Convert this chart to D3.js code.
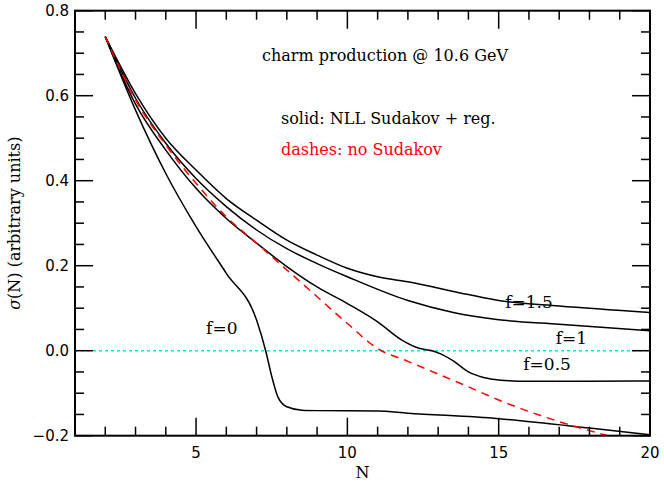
<!DOCTYPE html><html><head><meta charset="utf-8"><script src="https://cdn.jsdelivr.net/npm/d3@7"></script>
<style>body{margin:0;background:#fff}text{font-family:"DejaVu Sans",sans-serif}.s{font-family:"DejaVu Serif",serif}</style></head><body><svg width="664" height="488"></svg><script>
const xTicks=[5,10,15,20];
const yTicks=[-0.2,0,0.2,0.4,0.6,0.8];
const f15=[[2,0.739],[3,0.605],[4,0.5],[5,0.425],[6,0.358],[7,0.307],[8,0.26],[9,0.225],[10,0.194],[11,0.174],[12,0.162],[14,0.132],[15,0.118],[17,0.105],[20,0.09]];
const f1=[[2,0.739],[3,0.594],[4,0.488],[5,0.405],[6,0.339],[7,0.284],[8,0.24],[9,0.205],[10,0.174],[12,0.118],[13.5,0.09],[15,0.073],[17,0.062],[20,0.047]];
const f05=[[2,0.739],[3,0.58],[4,0.472],[5,0.382],[6,0.311],[7,0.253],[8,0.198],[9,0.15],[10,0.111],[11,0.068],[11.8,0.025],[12.4,0.005],[12.8,0.0],[13.1,-0.008],[13.5,-0.024],[14,-0.05],[14.5,-0.063],[15,-0.069],[16,-0.072],[18,-0.072],[20,-0.071]];
const f0=[[2,0.739],[3,0.566],[4,0.417],[5,0.292],[6,0.182],[7,0.072],[7.3,0.0],[7.5,-0.06],[7.7,-0.108],[8,-0.132],[8.5,-0.14],[9,-0.141],[11,-0.142],[12,-0.147],[15,-0.16],[18,-0.182],[20,-0.198]];
const noSud=[[2,0.739],[3,0.59],[4,0.484],[5,0.394],[6,0.315],[7,0.253],[8,0.19],[9,0.127],[10,0.064],[11,0.005],[12,-0.025],[13,-0.055],[14,-0.085],[15,-0.116],[16,-0.143],[17,-0.167],[18,-0.188],[18.6,-0.2]];
const labels=[["f=1.5",16.0,0.1],["f=1",17.4,0.015],["f=0.5",16.6,-0.045],["f=0",5.85,0.04]];
const svg=d3.select("svg");
const L=75,R=650,T=10.7,B=435.7;
const x=d3.scaleLinear().domain([1,20]).range([L,R]);
const y=d3.scaleLinear().domain([-0.2,0.8]).range([B,T]);
svg.append("defs").append("clipPath").attr("id","c").append("rect").attr("x",L).attr("y",T).attr("width",R-L).attr("height",B-T);
const g=svg.append("g");
g.append("line").attr("x1",L).attr("x2",R).attr("y1",y(0)).attr("y2",y(0)).attr("stroke","#00e5ee").attr("stroke-width",1.5).attr("stroke-dasharray","3,3");
const line=d3.line().x(d=>x(d[0])).y(d=>y(d[1])).curve(d3.curveMonotoneX);
[f15,f1,f05,f0].forEach(s=>g.append("path").attr("d",line(s)).attr("fill","none").attr("stroke","#000").attr("stroke-width",1.5).attr("clip-path","url(#c)"));
g.append("path").attr("d",line(noSud)).attr("fill","none").attr("stroke","#f00").attr("stroke-width",1.5).attr("stroke-dasharray","8,6").attr("clip-path","url(#c)");
g.append("rect").attr("x",L).attr("y",T).attr("width",R-L).attr("height",B-T).attr("fill","none").attr("stroke","#000").attr("stroke-width",2);
for(let v=1;v<=20;v++){const maj=v%5==0,len=maj?18:9;
 g.append("line").attr("x1",x(v)).attr("x2",x(v)).attr("y1",B).attr("y2",B-len).attr("stroke","#000").attr("stroke-width",1.5);
 g.append("line").attr("x1",x(v)).attr("x2",x(v)).attr("y1",T).attr("y2",T+len).attr("stroke","#000").attr("stroke-width",1.5);}
for(let i=0;i<=20;i++){const v=-0.2+i*0.05,maj=i%4==0,len=maj?18:9;
 g.append("line").attr("y1",y(v)).attr("y2",y(v)).attr("x1",L).attr("x2",L+len).attr("stroke","#000").attr("stroke-width",1.5);
 g.append("line").attr("y1",y(v)).attr("y2",y(v)).attr("x1",R).attr("x2",R-len).attr("stroke","#000").attr("stroke-width",1.5);}
xTicks.forEach(v=>g.append("text").attr("x",x(v)).attr("y",B+22).attr("text-anchor","middle").attr("font-size",15).text(v));
yTicks.forEach(v=>g.append("text").attr("x",L-6).attr("y",y(v)+5).attr("text-anchor","end").attr("font-size",15).text(v<0?"\u2212"+Math.abs(v).toFixed(1):v.toFixed(1)));
g.append("text").attr("class","s").attr("x",(L+R)/2).attr("y",478).attr("text-anchor","middle").attr("font-size",16).text("N");
g.append("text").attr("class","s").attr("transform","translate(20,"+((T+B)/2)+") rotate(-90)").attr("text-anchor","middle").attr("font-size",16).html('<tspan font-style="italic">σ</tspan>(N) (arbitrary units)');
g.append("text").attr("class","s").attr("x",385).attr("y",61).attr("text-anchor","middle").attr("font-size",16).text("charm production @ 10.6 GeV");
g.append("text").attr("class","s").attr("x",281).attr("y",124).attr("font-size",16).text("solid: NLL Sudakov + reg.");
g.append("text").attr("class","s").attr("x",281).attr("y",155).attr("font-size",16).attr("fill","#f00").text("dashes: no Sudakov");
labels.forEach(d=>g.append("text").attr("class","s").attr("x",x(d[1])).attr("y",y(d[2])).attr("text-anchor","middle").attr("font-size",17).text(d[0]));
</script></body></html>
